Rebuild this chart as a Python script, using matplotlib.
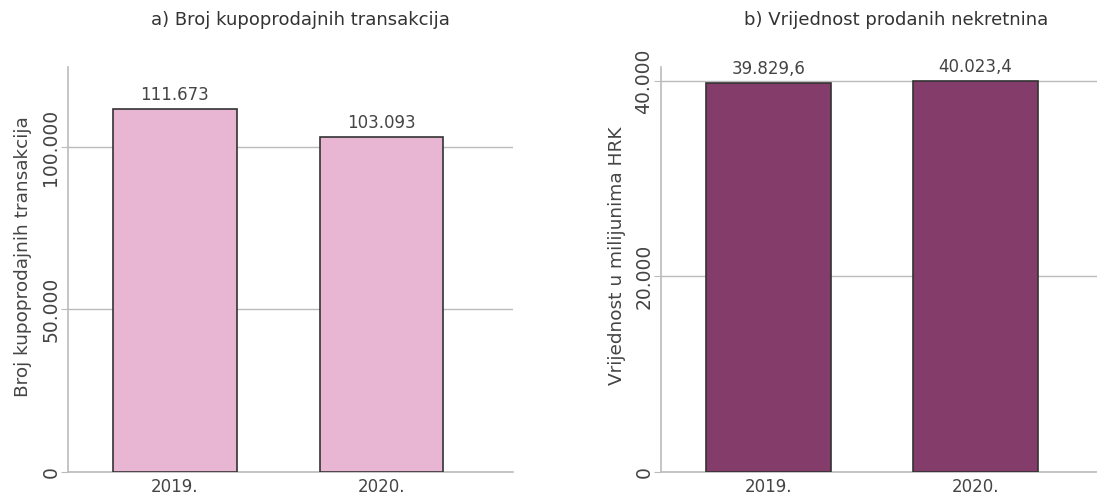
import matplotlib
matplotlib.use("Agg")
import matplotlib.pyplot as plt

plt.rcParams['font.family'] = ['DejaVu Sans']

years = ["2019.", "2020."]
transactions = [111673, 103093]
transaction_labels = ["111.673", "103.093"]
values = [39829.6, 40023.4]
value_labels = ["39.829,6", "40.023,4"]

left_ticks = [0, 50000, 100000]
left_ticklabels = ["0", "50.000", "100.000"]
right_ticks = [0, 20000, 40000]
right_ticklabels = ["0", "20.000", "40.000"]

W, H = 1097, 499
fig = plt.figure(figsize=(W / 100, H / 100), dpi=100)

text_col = "#444444"
grid_col = "#BBBBBB"


def make_axes(x0, x1, y0, y1):
    return fig.add_axes([x0 / W, (H - y1) / H, (x1 - x0) / W, (y1 - y0) / H])


def style(ax, ylim, xlim, ticks, ticklabels, ylabel, label_x):
    ax.set_ylim(*ylim)
    ax.set_xlim(*xlim)
    ax.set_yticks(ticks)
    ax.set_yticklabels(ticklabels, rotation=90, va='center', fontsize=13.5,
                       color=text_col)
    ax.set_xticks([0, 1])
    ax.set_xticklabels(years, fontsize=12, color=text_col)
    ax.tick_params(axis='x', length=0, pad=4)
    ax.tick_params(axis='y', length=5, color=grid_col, pad=0.5)
    for s in ['top', 'right']:
        ax.spines[s].set_visible(False)
    for s in ['left', 'bottom']:
        ax.spines[s].set_color(grid_col)
        ax.spines[s].set_linewidth(1.2)
    ax.yaxis.grid(True, color=grid_col, linewidth=1.0)
    ax.set_axisbelow(True)
    ax.set_ylabel(ylabel, fontsize=13.3, color=text_col)
    ax.yaxis.set_label_coords(label_x, 0.533)


# left panel
ax1 = make_axes(68, 513, 67, 472)
ax1.bar([0, 1], transactions, width=0.6, color="#E8B5D3", edgecolor="#333333",
        linewidth=1.2, zorder=3)
style(ax1, (0, 124600), (-0.518, 1.637), left_ticks, left_ticklabels,
      "Broj kupoprodajnih transakcija", -0.081)
for i, (v, lab) in enumerate(zip(transactions, transaction_labels)):
    ax1.text(i, v + 1500, lab, ha='center', va='bottom', fontsize=12,
             color=text_col)
fig.text(300 / W, 1 - 20 / H, "a) Broj kupoprodajnih transakcija", ha='center',
         va='center', fontsize=13, color="#333333")

# right panel
ax2 = make_axes(661, 1097, 67, 472)
ax2.bar([0, 1], values, width=0.6, color="#843C6A", edgecolor="#333333",
        linewidth=1.2, zorder=3)
style(ax2, (0, 41430), (-0.519, 1.587), right_ticks, right_ticklabels,
      "Vrijednost u milijunima HRK", -0.080)
for i, (v, lab) in enumerate(zip(values, value_labels)):
    ax2.text(i, v + 500, lab, ha='center', va='bottom', fontsize=12,
             color=text_col)
fig.text(896 / W, 1 - 20 / H, "b) Vrijednost prodanih nekretnina", ha='center',
         va='center', fontsize=13, color="#333333")

fig.savefig("out.png", dpi=100)
